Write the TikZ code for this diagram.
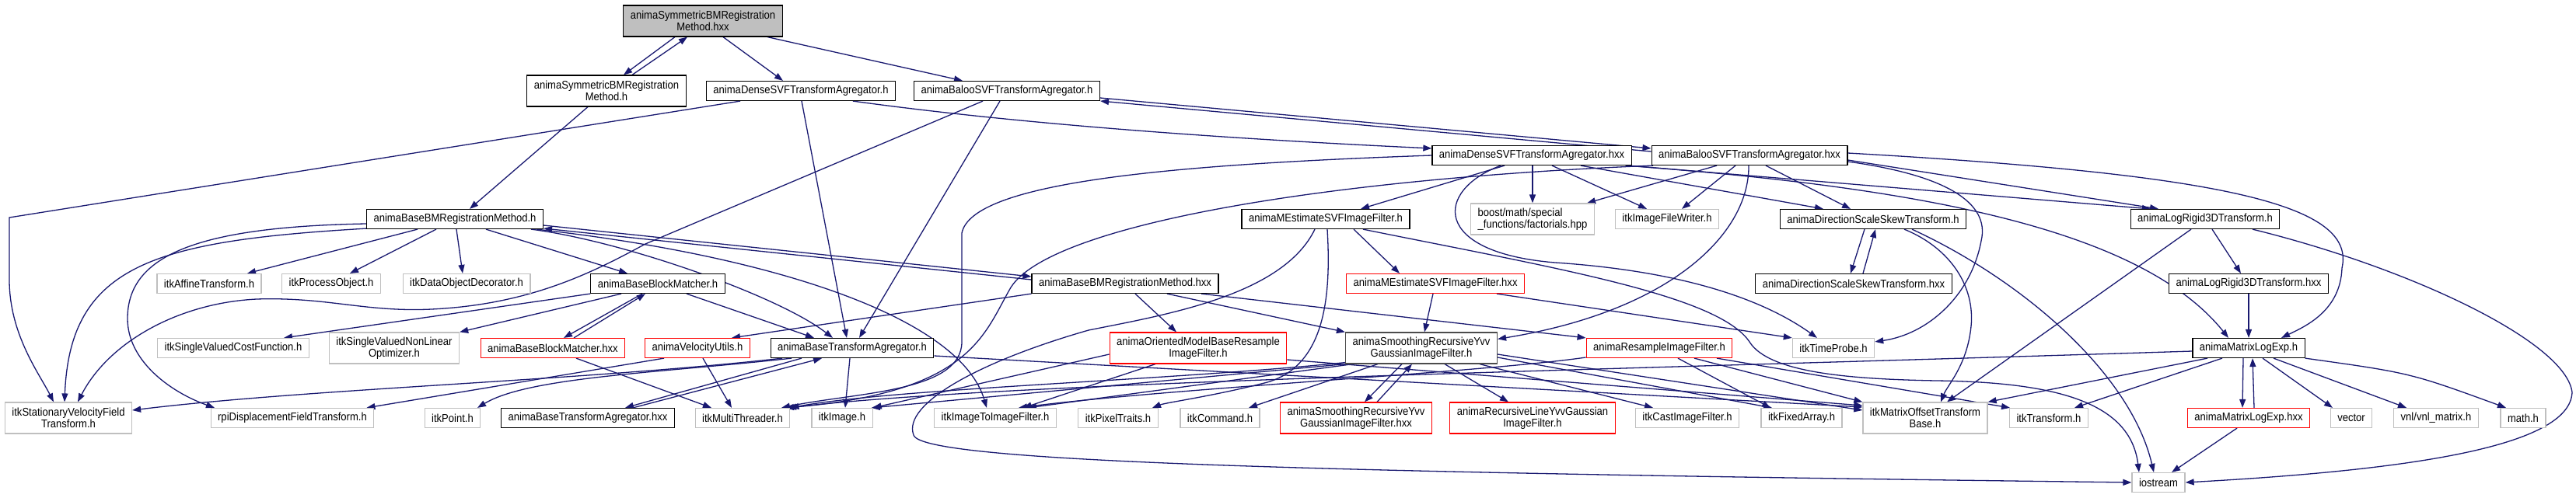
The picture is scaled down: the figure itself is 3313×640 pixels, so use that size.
\documentclass[tikz,border=0pt]{standalone}
\usepackage{fontspec}
\setmainfont{Liberation Sans}[FakeStretch=0.9]
\usetikzlibrary{arrows.meta}
\definecolor{edgeblue}{RGB}{25,25,112}
\definecolor{boxgrey}{RGB}{191,191,191}
\tikzset{
        hdr/.style={draw=black, line width=1.2pt, fill=white, font=\fontsize{14.5}{15.5}\selectfont,
                inner xsep=9pt, inner ysep=2pt, minimum height=25pt, align=center},
        syshdr/.style={hdr, draw=boxgrey},
        redhdr/.style={hdr, draw=red},
        twoline/.style={minimum height=40pt},
        dep/.style={draw=edgeblue, line width=1.3pt, -{Triangle[length=11pt,width=8pt]}},
}
\pgfdeclarelayer{edges}
\pgfsetlayers{edges,main}
\begin{document}
\begin{tikzpicture}[x=1pt,y=-1pt]
        \useasboundingbox (0,0) rectangle (3313,640);
        % rows of headers
        \node[hdr, twoline, fill=boxgrey] (symhxx) at (904,27) {animaSymmetricBMRegistration\\Method.hxx};
        \node[hdr, twoline] (symh) at (780,117) {animaSymmetricBMRegistration\\Method.h};
        \node[hdr] (densh) at (1030,117) {animaDenseSVFTransformAgregator.h};
        \node[hdr] (balooh) at (1295,117) {animaBalooSVFTransformAgregator.h};
        \node[hdr] (densx) at (1970,200) {animaDenseSVFTransformAgregator.hxx};
        \node[hdr] (baloox) at (2250,200) {animaBalooSVFTransformAgregator.hxx};
        \node[hdr] (basebmh) at (585,282) {animaBaseBMRegistrationMethod.h};
        \node[hdr] (mesth) at (1705,282) {animaMEstimateSVFImageFilter.h};
        \node[syshdr, twoline, align=left] (boost) at (1971,282) {boost/math/special\\\_functions/factorials.hpp};
        \node[syshdr] (writer) at (2144,282) {itkImageFileWriter.h};
        \node[hdr] (dssh) at (2409,282) {animaDirectionScaleSkewTransform.h};
        \node[hdr] (lrh) at (2836,282) {animaLogRigid3DTransform.h};
        \node[syshdr] (affine) at (269,365) {itkAffineTransform.h};
        \node[syshdr] (procobj) at (426,365) {itkProcessObject.h};
        \node[syshdr] (decor) at (600,365) {itkDataObjectDecorator.h};
        \node[hdr] (bmatch) at (846,365) {animaBaseBlockMatcher.h};
        \node[hdr] (basebmx) at (1447,365) {animaBaseBMRegistrationMethod.hxx};
        \node[redhdr] (mestx) at (1846,365) {animaMEstimateSVFImageFilter.hxx};
        \node[hdr] (dssx) at (2384,365) {animaDirectionScaleSkewTransform.hxx};
        \node[hdr] (lrx) at (2892,365) {animaLogRigid3DTransform.hxx};
        \node[syshdr] (costf) at (300,448) {itkSingleValuedCostFunction.h};
        \node[syshdr, twoline] (optim) at (507,448) {itkSingleValuedNonLinear\\Optimizer.h};
        \node[redhdr] (bmatchx) at (711,448) {animaBaseBlockMatcher.hxx};
        \node[redhdr] (velo) at (897,448) {animaVelocityUtils.h};
        \node[hdr] (btah) at (1096,448) {animaBaseTransformAgregator.h};
        \node[redhdr, twoline] (orient) at (1541,448) {animaOrientedModelBaseResample\\ImageFilter.h};
        \node[hdr, twoline, draw=black!70] (smooth) at (1828,448) {animaSmoothingRecursiveYvv\\GaussianImageFilter.h};
        \node[redhdr] (resamp) at (2134,448) {animaResampleImageFilter.h};
        \node[syshdr] (tprobe) at (2358,448) {itkTimeProbe.h};
        \node[hdr] (mlogh) at (2892,448) {animaMatrixLogExp.h};
        \node[syshdr, twoline] (svf) at (88,538) {itkStationaryVelocityField\\Transform.h};
        \node[syshdr] (rpi) at (376,538) {rpiDisplacementFieldTransform.h};
        \node[syshdr] (point) at (582,538) {itkPoint.h};
        \node[hdr] (btax) at (756,538) {animaBaseTransformAgregator.hxx};
        \node[syshdr] (mthread) at (955,538) {itkMultiThreader.h};
        \node[syshdr] (image) at (1083,538) {itkImage.h};
        \node[syshdr] (i2i) at (1280,538) {itkImageToImageFilter.h};
        \node[syshdr] (ptraits) at (1438,538) {itkPixelTraits.h};
        \node[syshdr] (command) at (1569,538) {itkCommand.h};
        \node[redhdr, twoline] (smoothx) at (1744,538) {animaSmoothingRecursiveYvv\\GaussianImageFilter.hxx};
        \node[redhdr, twoline] (recline) at (1971,538) {animaRecursiveLineYvvGaussian\\ImageFilter.h};
        \node[syshdr] (cast) at (2170,538) {itkCastImageFilter.h};
        \node[syshdr] (farray) at (2317,538) {itkFixedArray.h};
        \node[syshdr, twoline] (moffset) at (2476,538) {itkMatrixOffsetTransform\\Base.h};
        \node[syshdr] (transf) at (2635,538) {itkTransform.h};
        \node[redhdr] (mlogx) at (2892,538) {animaMatrixLogExp.hxx};
        \node[syshdr] (vector) at (3024,538) {vector};
        \node[syshdr] (vnl) at (3133,538) {vnl/vnl\_matrix.h};
        \node[syshdr] (math) at (3245,538) {math.h};
        \node[syshdr] (iostream) at (2776,621) {iostream};
        \begin{pgfonlayer}{edges}
        % top
        \draw[dep] ([xshift=-36]symhxx.south) -- ([xshift=22]symh.north);
        \draw[dep] ([xshift=33]symh.north) -- ([xshift=-20]symhxx.south);
        \draw[dep] ([xshift=26]symhxx.south) -- ([xshift=-23]densh.north);
        \draw[dep] ([xshift=83]symhxx.south) -- ([xshift=-57]balooh.north);
        \draw[dep] ([xshift=-24]symh.south) -- ([xshift=19]basebmh.north);
        % agregator headers
        \draw[dep] ([xshift=-78]densh.south) -- (12,280) -- (12,360) .. controls (12,430) and (50,480) .. ([xshift=-19]svf.north);
        \draw[dep] ([xshift=1]densh.south) -- ([xshift=-7]btah.north);
        \draw[dep] ([xshift=67]densh.south) .. controls (1350,165) and (1650,182) .. ([yshift=9]densx.west);
        \draw[dep] ([xshift=-9]balooh.south) -- ([xshift=9]btah.north);
        \draw[dep] ([xshift=-31]balooh.south) -- (830,314) .. controls (760,352) and (680,392) .. (555,398)
                .. controls (470,402) and (420,382) .. (330,385) .. controls (230,390) and (140,440) .. ([xshift=12]svf.north);
        \draw[dep] ([yshift=-9]balooh.east) -- ([yshift=9]baloox.west);
        \draw[dep] ([yshift=5]baloox.west) -- ([yshift=-13]balooh.east);
        % base registration method
        \draw[dep] ([xshift=-48]basebmh.south) -- ([xshift=49]affine.north);
        \draw[dep] ([xshift=-24]basebmh.south) -- ([xshift=24]procobj.north);
        \draw[dep] ([xshift=2]basebmh.south) -- ([xshift=-5]decor.north);
        \draw[dep] ([xshift=40]basebmh.south) -- ([xshift=-39]bmatch.north);
        \draw[dep] ([yshift=1]basebmh.south west) .. controls (200,310) and (90,340) .. ([xshift=-5]svf.north);
        \draw[dep] ([yshift=-6]basebmh.west) .. controls (250,292) and (164,330) .. (164,410)
                .. controls (164,465) and (220,505) .. ([xshift=-100]rpi.north);
        \draw[dep] ([yshift=-8]basebmh.east) -- ([yshift=9]basebmx.west);
        \draw[dep] ([yshift=5]basebmx.west) -- ([yshift=-12]basebmh.east);
        \draw[dep] ([xshift=98]basebmh.south) .. controls (800,310) and (1000,380) .. ([xshift=-25]btah.north);
        \draw[dep] ([xshift=105]basebmh.south) .. controls (1000,330) and (1235,410) .. ([xshift=-11]i2i.north);
        % block matcher
        \draw[dep] (bmatch.south west) -- ([xshift=65]costf.north);
        \draw[dep] ([xshift=-47]bmatch.south) -- (optim.north east);
        \draw[dep] ([xshift=-20]bmatch.south) -- ([xshift=14]bmatchx.north);
        \draw[dep] ([xshift=27]bmatchx.north) -- ([xshift=-16]bmatch.south);
        \draw[dep] ([xshift=37]bmatch.south) -- ([xshift=-49]btah.north);
        \draw[dep] ([xshift=30]bmatchx.south) -- ([xshift=-40]mthread.north);
        % base registration method hxx
        \draw[dep] (basebmx.south west) -- ([xshift=44]velo.north);
        \draw[dep] ([xshift=13]basebmx.south) -- ([xshift=-28]orient.north);
        \draw[dep] ([xshift=54]basebmx.south) -- (smooth.north west);
        \draw[dep] ([xshift=98]basebmx.south) -- (resamp.north west);
        \draw[dep] ([xshift=7]velo.south) -- ([xshift=-14]mthread.north);
        \draw[dep] ([xshift=-43]velo.south) -- ([xshift=-10]rpi.north east);
        % base transform agregator
        \draw[dep] ([xshift=-90]btah.south) .. controls (750,490) and (400,500) .. ([yshift=10]svf.east);
        \draw[dep] ([xshift=-78]btah.south) .. controls (850,480) and (680,485) .. ([xshift=32]point.north);
        \draw[dep] ([xshift=-65]btah.south) -- ([xshift=48]btax.north);
        \draw[dep] ([xshift=58]btax.north) -- ([xshift=-39]btah.south);
        \draw[dep] ([xshift=-3]btah.south) -- ([xshift=4]image.north);
        \draw[dep] ([yshift=-10]btah.east) -- ([yshift=14]moffset.west);
        % dense agregator hxx
        \draw[dep] ([xshift=-35]densx.south) -- ([xshift=45]mesth.north);
        \draw[dep] ([xshift=1]densx.south) -- (boost.north);
        \draw[dep] ([xshift=26]densx.south) -- ([xshift=-26]writer.north);
        \draw[dep] ([xshift=63]densx.south) -- ([xshift=-64]dssh.north);
        \draw[dep] ([xshift=-40]densx.south) .. controls (1845,245) and (1840,325) .. (2000,338)
                .. controls (2150,348) and (2260,380) .. ([xshift=-21]tprobe.north);
        \draw[dep] (densx.west) .. controls (1500,212) and (1250,235) .. (1237,300) -- (1237,440)
                .. controls (1237,505) and (1100,505) .. ([xshift=50]mthread.north);
        \draw[dep] ([xshift=-5]densx.south east) -- ([xshift=-70]lrh.north);
        \draw[dep] ([xshift=-8]densx.south east) .. controls (2450,240) and (2750,290) .. ([xshift=-26]mlogh.north);
        % baloo agregator hxx
        \draw[dep] ([xshift=-42]baloox.south) -- ([xshift=70]boost.north);
        \draw[dep] ([xshift=-18]baloox.south) -- ([xshift=19]writer.north);
        \draw[dep] ([xshift=21]baloox.south) -- ([xshift=-29]dssh.north);
        \draw[dep] ([xshift=-1]baloox.south) .. controls (2250,300) and (2150,400) .. ([yshift=-9]smooth.north east);
        \draw[dep] ([xshift=-124]baloox.south) .. controls (1700,230) and (1350,290) .. (1300,370)
                .. controls (1265,430) and (1250,505) .. ([xshift=55]mthread.north);
        \draw[dep] ([yshift=-6]baloox.east) -- ([xshift=-60]lrh.north);
        \draw[dep] ([yshift=3]baloox.east) .. controls (2870,225) and (3030,265) .. (3012,345)
                .. controls (3010,400) and (2965,420) .. ([xshift=42]mlogh.north);
        \draw[dep] ([yshift=-8]baloox.east) .. controls (2500,225) and (2560,260) .. (2548,310)
                .. controls (2535,380) and (2480,430) .. ([yshift=-5]tprobe.north east);
        % skew transform
        \draw[dep] ([xshift=-11]dssh.south) -- ([xshift=-4]dssx.north);
        \draw[dep] ([xshift=12]dssx.north) -- ([xshift=3]dssh.south);
        \draw[dep] ([xshift=40]dssh.south) .. controls (2510,320) and (2540,370) .. (2535,420)
                .. controls (2530,470) and (2505,495) .. ([xshift=20]moffset.north);
        \draw[dep] ([xshift=50]dssh.south) .. controls (2600,360) and (2740,480) .. ([xshift=-6]iostream.north);
        % log rigid transform
        \draw[dep] ([xshift=9]lrh.south) -- ([xshift=-10]lrx.north);
        \draw[dep] ([xshift=-18]lrh.south) -- ([xshift=28]moffset.north);
        \draw[dep] ([xshift=61]lrh.south) .. controls (3100,345) and (3300,440) .. (3308,505)
                .. controls (3305,575) and (3100,605) .. (iostream.east);
        \draw[dep] (lrx.south) -- (mlogh.north);
        % matrix log exp
        \draw[dep] ([xshift=-53]mlogh.south) -- (moffset.north east);
        \draw[dep] ([xshift=-34]mlogh.south) -- ([xshift=33]transf.north);
        \draw[dep] ([xshift=-7]mlogh.south) -- ([xshift=-8]mlogx.north);
        \draw[dep] ([xshift=7]mlogx.north) -- ([xshift=5]mlogh.south);
        \foreach \dx/\dst/\ex in {18/vector/-24, 32/vnl/-38} {
                \draw[dep] ([xshift=\dx]mlogh.south) -- ([xshift=\ex]\dst.north);
        }
        \draw[dep] (mlogh.south east) .. controls (3100,480) .. ([xshift=-22]math.north);
        \draw[dep] ([yshift=-4]mlogh.west) .. controls (2000,478) and (1300,492) .. ([xshift=58]mthread.north);
        \draw[dep] ([xshift=-15]mlogx.south) -- ([xshift=17]iostream.north);
        % m-estimate filter
        \draw[dep] ([xshift=36]mesth.south) -- ([xshift=-46]mestx.north);
        \draw[dep] ([xshift=-14]mesth.south) .. controls (1650,380) and (1500,405) .. (1400,425)
                .. controls (1260,465) and (1160,520) .. (1175,560)
                .. controls (1185,595) and (1700,608) .. (iostream.west);
        \draw[dep] ([xshift=2]mesth.south) .. controls (1712,380) and (1705,470) .. (1630,492)
                .. controls (1560,510) and (1500,518) .. ([xshift=44]ptraits.north);
        \draw[dep] ([xshift=48]mesth.south) .. controls (2000,345) and (2210,380) .. (2250,440)
                .. controls (2275,480) and (2380,488) .. (2490,490)
                .. controls (2650,492) and (2740,520) .. ([xshift=-25]iostream.north);
        \draw[dep] ([xshift=-3]mestx.south) -- ([xshift=4]smooth.north);
        \draw[dep] ([xshift=79]mestx.south) -- (tprobe.north west);
        % resample filters
        \draw[dep] ([yshift=-8]orient.west) -- (image.north east);
        \draw[dep] ([xshift=-55]orient.south) -- ([xshift=36]i2i.north);
        \draw[dep] ([yshift=-15]orient.east) -- ([yshift=16]moffset.west);
        \draw[dep] ([xshift=-25]smooth.south) -- ([xshift=11]smoothx.north);
        \draw[dep] ([xshift=27]smoothx.north) -- ([xshift=-12]smooth.south);
        \draw[dep] ([xshift=30]smooth.south) -- ([xshift=-31]recline.north);
        \draw[dep] ([xshift=75]smooth.south) -- ([xshift=-44]cast.north);
        \draw[dep] ([yshift=-12]smooth.east) -- ([xshift=-38]farray.north);
        \draw[dep] ([yshift=-8]smooth.east) -- ([yshift=10]moffset.west);
        \draw[dep] ([xshift=-56]smooth.south) -- ([xshift=37]command.north);
        \draw[dep] (smooth.south west) -- ([xshift=-2]image.north east);
        \draw[dep] ([yshift=2]smooth.south west) .. controls (1500,490) and (1150,500) .. (mthread.north east);
        \draw[dep] ([xshift=10]smooth.south west) -- ([xshift=42]i2i.north);
        \draw[dep] ([yshift=-12]resamp.west) .. controls (1900,480) and (1500,500) .. ([xshift=30]i2i.north);
        \draw[dep] ([xshift=24]resamp.south) -- ([xshift=-40]farray.north);
        \draw[dep] ([xshift=45]resamp.south) -- (moffset.north west);
        \draw[dep] ([xshift=74]resamp.south) -- ([xshift=-50]transf.north);
        \end{pgfonlayer}
\end{tikzpicture}
\end{document}
